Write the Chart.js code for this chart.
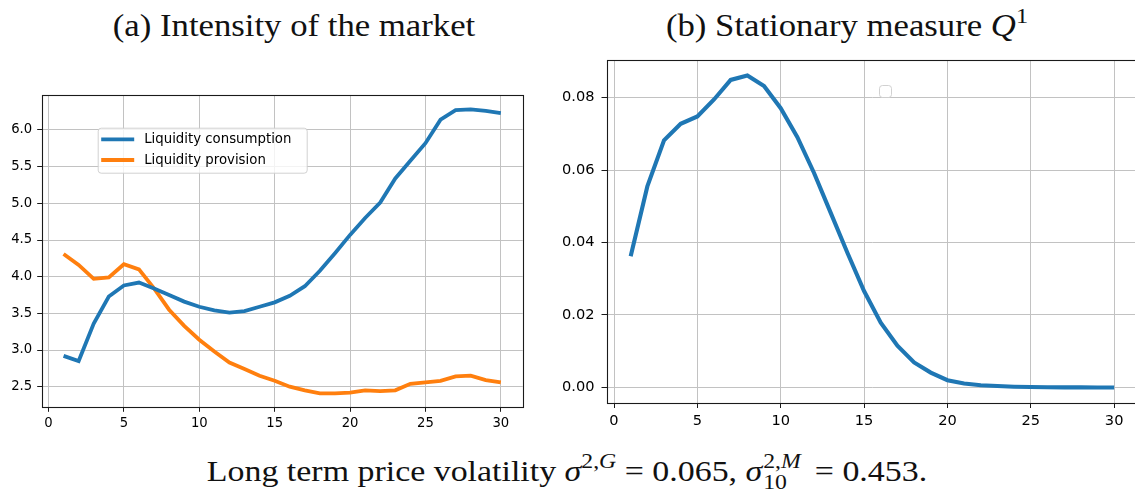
<!DOCTYPE html>
<html>
<head>
<meta charset="utf-8">
<script src="https://cdn.jsdelivr.net/npm/chart.js@4.4.1/dist/chart.umd.min.js"></script>
<style>
  html, body { margin: 0; padding: 0; background: #fff; }
  #page { position: relative; width: 1135px; height: 490px; overflow: hidden; }
  canvas { position: absolute; }
  .cap { position: absolute; font-family: "Liberation Serif", "DejaVu Serif", serif;
         color: #111; white-space: nowrap; line-height: 1; transform-origin: 50% 50%; }
  .cap i { font-style: italic; }
  .up { position: relative; font-size: 0.7em; top: -0.6em; }
  .ss { position: relative; display: inline-block; width: 1.3em; height: 0; }
  .ss .hi { position: absolute; left: 0.04em; bottom: 0.45em; font-size: 0.7em; line-height: 1; }
  .ss .lo { position: absolute; left: 0.04em; top: -0.45em; font-size: 0.7em; line-height: 1; }
</style>
</head>
<body>
<div id="page">
  <div class="cap" style="left:294px; top:10px; font-size:31px; transform: translateX(-50%) scaleX(1.12);">(a) Intensity of the market</div>
  <div class="cap" style="left:847px; top:10px; font-size:31px; transform: translateX(-50%) scaleX(1.12);">(b) Stationary measure <i>Q</i><span class="up">1</span></div>
  <canvas id="chartA" width="540" height="440" style="left:0; top:0; width:540px; height:440px;"></canvas>
  <canvas id="chartB" width="600" height="440" style="left:540px; top:0; width:600px; height:440px;"></canvas>
  <div class="cap" style="left:567px; top:456px; font-size:30px; transform: translateX(-50%) scaleX(1.13);">Long term price volatility <i>σ</i><span class="up">2,<i>G</i></span> = 0.065, <i>σ</i><span class="ss"><span class="hi">2,<i>M</i></span><span class="lo">10</span></span> = 0.453.</div>
</div>
<script>
// ----- data -----
const steps = [1, 2, 3, 4, 5, 6, 7, 8, 9, 10, 11, 12, 13, 14, 15,
               16, 17, 18, 19, 20, 21, 22, 23, 24, 25, 26, 27, 28, 29, 30];

const consumption = [2.92, 2.85, 3.36, 3.73, 3.88, 3.92, 3.84, 3.75, 3.66, 3.59,
                     3.54, 3.51, 3.53, 3.59, 3.65, 3.74, 3.87, 4.08, 4.32, 4.57,
                     4.80, 5.01, 5.34, 5.58, 5.82, 6.14, 6.27, 6.28, 6.26, 6.23];

const provision = [4.31, 4.16, 3.97, 3.99, 4.17, 4.10, 3.84, 3.55, 3.33, 3.14,
                   2.98, 2.83, 2.74, 2.65, 2.58, 2.50, 2.45, 2.41, 2.41, 2.42,
                   2.45, 2.44, 2.45, 2.54, 2.56, 2.58, 2.64, 2.65, 2.59, 2.56];

const stationary = [0.0362, 0.0555, 0.0682, 0.0728, 0.0748, 0.0795, 0.0849, 0.0861, 0.0832, 0.0771,
                    0.0691, 0.0592, 0.0482, 0.0372, 0.0266, 0.0179, 0.0115, 0.0069, 0.0041, 0.0020,
                    0.0011, 0.0006, 0.0004, 0.0002, 0.0001, 0.00005, 0.00002, 0.00001, 0.0, 0.0];

const xTicks = [0, 5, 10, 15, 20, 25, 30];
const yTicksA = [2.5, 3.0, 3.5, 4.0, 4.5, 5.0, 5.5, 6.0];
const yTicksB = [0.00, 0.02, 0.04, 0.06, 0.08];

const seriesLabels = ["Liquidity consumption", "Liquidity provision"];
const BLUE = "#1f77b4";
const ORANGE = "#ff7f0e";

function points(ys) {
  return steps.map((x, i) => ({ x: x, y: ys[i] }));
}

/* ================= FRAME + IN-AXES LEGEND ================= */
const framePlugin = {
  id: "frame",
  afterDraw(chart, args, opts) {
    const { ctx, chartArea: a } = chart;
    ctx.save();
    ctx.strokeStyle = "#1a1a1a";
    ctx.lineWidth = 1.1;
    ctx.strokeRect(Math.round(a.left) + 0.5, Math.round(a.top) + 0.5,
                   Math.round(a.right - a.left), Math.round(a.bottom - a.top));

    const lg = opts.legend;
    if (lg) {
      const x = a.left + lg.dx, y = a.top + lg.dy;
      ctx.fillStyle = "rgba(255,255,255,0.8)";
      ctx.strokeStyle = "rgba(204,204,204,0.9)";
      ctx.lineWidth = 1;
      ctx.beginPath();
      ctx.roundRect(x + 0.5, y + 0.5, lg.w, lg.h, 3);
      ctx.fill();
      ctx.stroke();
      const items = chart.data.datasets.filter(d => d.label);
      ctx.font = "13.3px 'DejaVu Sans'";
      ctx.textBaseline = "middle";
      items.forEach((d, i) => {
        const cy = y + 11.6 + i * 20.7;
        ctx.strokeStyle = d.borderColor;
        ctx.lineWidth = d.borderWidth;
        ctx.beginPath();
        ctx.moveTo(x + 3.5, cy);
        ctx.lineTo(x + 36.5, cy);
        ctx.stroke();
        ctx.fillStyle = "#000";
        ctx.fillText(d.label, x + 46.5, cy + 0.5);
      });
    }
    ctx.restore();
  }
};

function axisOptions(min, max, ticks, fmt, size, fontSize, tickLen, pad) {
  return {
    type: "linear",
    min: min,
    max: max,
    afterBuildTicks: s => { s.ticks = ticks.map(v => ({ value: v })); },
    afterFit: s => {
      if (s.isHorizontal()) s.height = size; else s.width = size;
    },
    grid: { color: "#c2c2c2", lineWidth: 1, tickColor: "#1a1a1a", tickLength: tickLen, drawTicks: true },
    border: { display: false },
    ticks: {
      color: "#000",
      font: { family: "DejaVu Sans", size: fontSize },
      padding: pad,
      maxRotation: 0,
      autoSkip: false,
      callback: fmt
    }
  };
}

/* ================= (a) INTENSITY ================= */
new Chart(document.getElementById("chartA"), {
  type: "line",
  data: {
    datasets: [
      { label: seriesLabels[0], data: points(consumption), borderColor: BLUE, borderWidth: 3.8 },
      { label: seriesLabels[1], data: points(provision), borderColor: ORANGE, borderWidth: 3.8 }
    ]
  },
  options: {
    responsive: false,
    animation: false,
    devicePixelRatio: 1,
    elements: { point: { radius: 0 }, line: { tension: 0, borderCapStyle: "butt" } },
    layout: { padding: { top: 95, right: 17.3, bottom: 2.7, left: 0 } },
    plugins: {
      legend: { display: false },
      tooltip: { enabled: false },
      frame: { legend: { dx: 56, dy: 32.7, w: 209, h: 45 } }
    },
    scales: {
      x: axisOptions(-0.45, 31.45, xTicks, v => String(v), 30, 13.2, 4.5, 4),
      y: axisOptions(2.219, 6.477, yTicksA, v => v.toFixed(1), 41.7, 13.2, 4.5, 5)
    }
  },
  plugins: [framePlugin]
});

/* ================= (b) STATIONARY MEASURE ================= */
new Chart(document.getElementById("chartB"), {
  type: "line",
  data: {
    datasets: [
      { data: points(stationary), borderColor: BLUE, borderWidth: 4.1 }
    ]
  },
  options: {
    responsive: false,
    animation: false,
    devicePixelRatio: 1,
    elements: { point: { radius: 0 }, line: { tension: 0, borderCapStyle: "butt" } },
    layout: { padding: { top: 60, right: 1.7, bottom: 7, left: 0 } },
    plugins: {
      legend: { display: false },
      tooltip: { enabled: false },
      frame: { legend: { dx: 272.5, dy: 25, w: 12, h: 12 } }
    },
    scales: {
      x: axisOptions(-0.45, 31.45, xTicks, v => String(v), 30, 14.6, 5, 4),
      y: axisOptions(-0.0043, 0.0904, yTicksB, v => v.toFixed(2), 66.5, 14.6, 5, 7)
    }
  },
  plugins: [framePlugin]
});
</script>
</body>
</html>
